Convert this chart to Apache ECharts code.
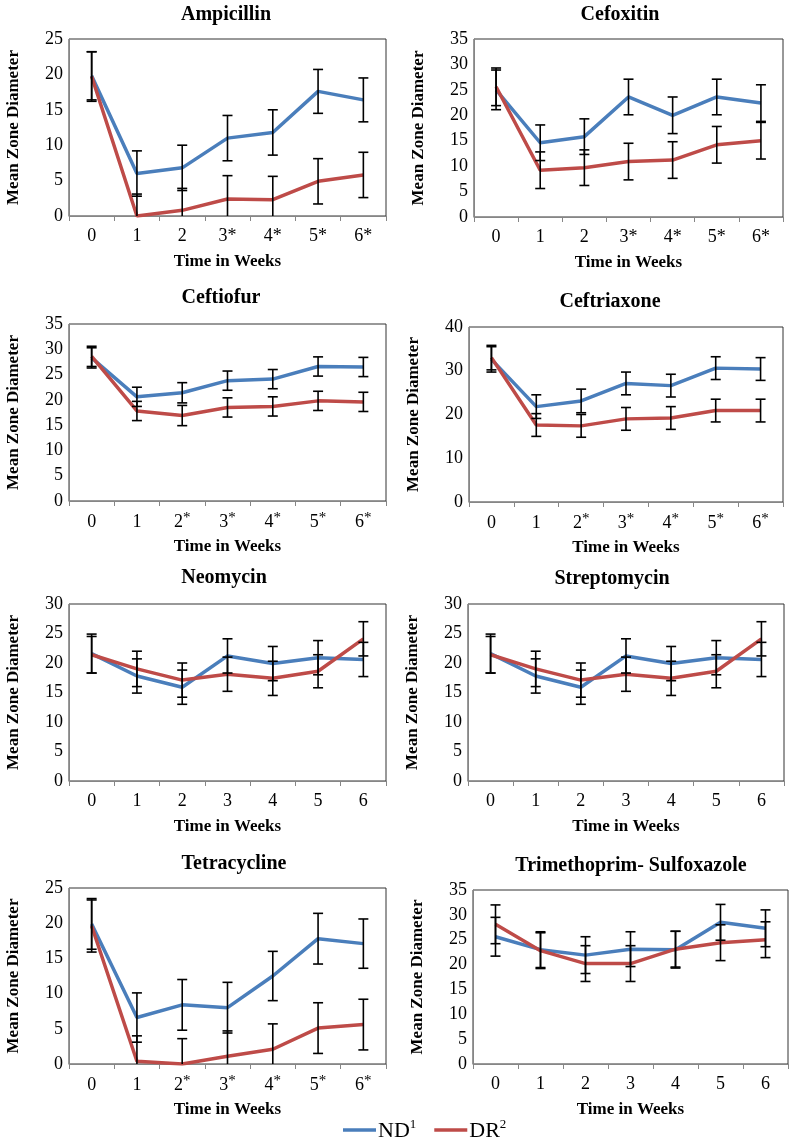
<!DOCTYPE html>
<html>
<head>
<meta charset="utf-8">
<script src="https://cdn.jsdelivr.net/npm/echarts@6/dist/echarts.min.js"></script>
<style>
html,body{margin:0;padding:0;background:#fff;}
#chart{width:794px;height:1143px;}
</style>
</head>
<body>
<div id="chart"></div>
<script>
// ---------- tick labels ----------
const labelsA = ['0', '1', '2', '3*', '4*', '5*', '6*'];
const labelsB = ['0', '1', '2*', '3*', '4*', '5*', '6*'];
const labelsC = ['0', '1', '2', '3', '4', '5', '6'];

// ---------- data (mean, SD) ----------
const ampND = [19.8, 6.0, 6.8, 11.0, 11.8, 17.6, 16.4];
const ampNDsd = [3.4, 3.2, 3.2, 3.2, 3.2, 3.1, 3.1];
const ampDR = [19.7, 0.0, 0.8, 2.4, 2.3, 4.9, 5.8];
const ampDRsd = [3.5, 3.1, 3.1, 3.3, 3.3, 3.2, 3.2];

const cefoxND = [25.0, 14.6, 15.8, 23.6, 20.0, 23.6, 22.4];
const cefoxNDsd = [3.9, 3.5, 3.5, 3.5, 3.6, 3.5, 3.6];
const cefoxDR = [25.6, 9.2, 9.7, 10.9, 11.2, 14.2, 15.0];
const cefoxDRsd = [3.7, 3.6, 3.5, 3.6, 3.6, 3.6, 3.6];

const ceftioND = [28.3, 20.6, 21.4, 23.8, 24.1, 26.6, 26.5];
const ceftioNDsd = [2.0, 1.9, 2.0, 1.9, 1.9, 1.9, 1.9];
const ceftioDR = [28.6, 17.8, 16.9, 18.5, 18.7, 19.8, 19.6];
const ceftioDRsd = [2.0, 1.9, 2.0, 1.9, 1.9, 1.9, 1.9];

const ceftriND = [32.6, 21.8, 23.1, 27.1, 26.6, 30.6, 30.4];
const ceftriNDsd = [2.9, 2.7, 2.7, 2.6, 2.6, 2.6, 2.6];
const ceftriDR = [33.0, 17.6, 17.4, 19.0, 19.2, 20.9, 20.9];
const ceftriDRsd = [2.8, 2.6, 2.6, 2.6, 2.6, 2.6, 2.6];

const neoND = [21.6, 17.8, 15.9, 21.2, 19.9, 20.9, 20.6];
const neoNDsd = [3.3, 2.9, 2.9, 2.9, 2.9, 2.9, 2.9];
const neoDR = [21.4, 19.0, 17.1, 18.1, 17.4, 18.6, 24.1];
const neoDRsd = [3.1, 3.0, 2.9, 2.9, 2.9, 2.8, 2.9];

const strepND = [21.6, 17.8, 15.9, 21.2, 19.9, 20.9, 20.6];
const strepNDsd = [3.3, 2.9, 2.9, 2.9, 2.9, 2.9, 2.9];
const strepDR = [21.4, 19.0, 17.1, 18.1, 17.4, 18.6, 24.1];
const strepDRsd = [3.1, 3.0, 2.9, 2.9, 2.9, 2.8, 2.9];

const tetraND = [19.9, 6.6, 8.4, 8.0, 12.5, 17.8, 17.1];
const tetraNDsd = [3.6, 3.5, 3.6, 3.6, 3.5, 3.6, 3.5];
const tetraDR = [19.6, 0.4, 0.0, 1.1, 2.1, 5.1, 5.6];
const tetraDRsd = [3.7, 3.6, 3.6, 3.6, 3.6, 3.6, 3.6];

const trimND = [25.6, 23.0, 21.9, 23.1, 23.0, 28.5, 27.3];
const trimNDsd = [3.9, 3.6, 3.7, 3.5, 3.7, 3.6, 3.7];
const trimDR = [28.1, 22.8, 20.2, 20.2, 23.1, 24.4, 25.0];
const trimDRsd = [3.9, 3.6, 3.6, 3.6, 3.6, 3.6, 3.6];

// ---------- layout ----------
const FONT = '"Liberation Serif", "Times New Roman", serif';
const ND_COLOR = '#4a7ebb';
const DR_COLOR = '#be4b48';

const panels = [
  {title: 'Ampicillin', labels: labelsA, star: 'plain', max: 25, interval: 5, nd: ampND, ndSd: ampNDsd, dr: ampDR, drSd: ampDRsd,
   grid: {left: 69, top: 39, width: 317, height: 177}, tx: 226, ty: 15},
  {title: 'Cefoxitin', labels: labelsA, star: 'plain', max: 35, interval: 5, nd: cefoxND, ndSd: cefoxNDsd, dr: cefoxDR, drSd: cefoxDRsd,
   grid: {left: 474, top: 39, width: 309, height: 178}, tx: 620, ty: 15},
  {title: 'Ceftiofur', labels: labelsB, star: 'sup', max: 35, interval: 5, nd: ceftioND, ndSd: ceftioNDsd, dr: ceftioDR, drSd: ceftioDRsd,
   grid: {left: 69, top: 324, width: 317, height: 177}, tx: 221, ty: 298},
  {title: 'Ceftriaxone', labels: labelsB, star: 'sup', max: 40, interval: 10, nd: ceftriND, ndSd: ceftriNDsd, dr: ceftriDR, drSd: ceftriDRsd,
   grid: {left: 469, top: 327, width: 314, height: 175}, tx: 610, ty: 302},
  {title: 'Neomycin', labels: labelsC, star: 'plain', max: 30, interval: 5, nd: neoND, ndSd: neoNDsd, dr: neoDR, drSd: neoDRsd,
   grid: {left: 69, top: 604, width: 317, height: 177}, tx: 224, ty: 578},
  {title: 'Streptomycin', labels: labelsC, star: 'plain', max: 30, interval: 5, nd: strepND, ndSd: strepNDsd, dr: strepDR, drSd: strepDRsd,
   grid: {left: 468, top: 604, width: 316, height: 177}, tx: 612, ty: 579},
  {title: 'Tetracycline', labels: labelsB, star: 'sup', max: 25, interval: 5, nd: tetraND, ndSd: tetraNDsd, dr: tetraDR, drSd: tetraDRsd,
   grid: {left: 69, top: 888, width: 317, height: 176}, tx: 234, ty: 864},
  {title: 'Trimethoprim- Sulfoxazole', labels: labelsC, star: 'plain', max: 35, interval: 5, nd: trimND, ndSd: trimNDsd, dr: trimDR, drSd: trimDRsd,
   grid: {left: 473, top: 890, width: 315, height: 174}, tx: 631, ty: 866}
];

function errorRender(params, api) {
  const x = api.value(0);
  const m = api.value(1);
  const s = api.value(2);
  const hi = api.coord([x, m + s]);
  const lo = api.coord([x, m - s]);
  const w = 5;
  const st = {stroke: '#000', lineWidth: 1.6};
  return {
    type: 'group',
    children: [
      {type: 'line', shape: {x1: hi[0], y1: hi[1], x2: lo[0], y2: lo[1]}, style: st},
      {type: 'line', shape: {x1: hi[0] - w, y1: hi[1], x2: hi[0] + w, y2: hi[1]}, style: st},
      {type: 'line', shape: {x1: lo[0] - w, y1: lo[1], x2: lo[0] + w, y2: lo[1]}, style: st}
    ]
  };
}

const option = {
  animation: false,
  backgroundColor: '#fff',
  title: [],
  grid: [],
  xAxis: [],
  yAxis: [],
  series: [],
  legend: {
    data: ['ND', 'DR'],
    left: 343,
    top: 1118,
    padding: 0,
    icon: 'rect',
    itemWidth: 33,
    itemHeight: 3.5,
    itemGap: 18,
    formatter: function (name) {
      return name === 'ND' ? '{a|ND}{s|1}' : '{a|DR}{s|2}';
    },
    textStyle: {
      color: '#000',
      fontFamily: FONT,
      padding: [0, 0, 0, -3],
      rich: {
        a: {fontSize: 22, fontFamily: FONT, color: '#000', lineHeight: 24, verticalAlign: 'bottom'},
        s: {fontSize: 13, fontFamily: FONT, color: '#000', lineHeight: 12, verticalAlign: 'top'}
      }
    }
  }
};

panels.forEach(function (p, i) {
  option.title.push({
    text: p.title,
    left: p.tx,
    top: p.ty - 12,
    textAlign: 'center',
    padding: 0,
    textStyle: {fontFamily: FONT, fontWeight: 'bold', fontSize: 20, color: '#000', lineHeight: 24}
  });
  option.grid.push(Object.assign({show: true, borderColor: '#333', borderWidth: 1, containLabel: false}, p.grid));
  const richStar = p.star === 'sup'
    ? {n: {fontSize: 18, fontFamily: FONT, color: '#000', lineHeight: 20, verticalAlign: 'bottom'},
       s: {fontSize: 15, fontFamily: FONT, color: '#000', lineHeight: 10, verticalAlign: 'top'}}
    : {n: {fontSize: 18, fontFamily: FONT, color: '#000', lineHeight: 20},
       s: {fontSize: 18, fontFamily: FONT, color: '#000', lineHeight: 20}};
  option.xAxis.push({
    type: 'category',
    gridIndex: i,
    data: p.labels,
    boundaryGap: true,
    axisLine: {lineStyle: {color: '#868686', width: 1}},
    axisTick: {show: true, length: 5, lineStyle: {color: '#868686'}},
    axisLabel: {
      interval: 0,
      margin: 10,
      color: '#000',
      fontFamily: FONT,
      fontSize: 18,
      formatter: function (v) {
        return v.endsWith('*') ? '{n|' + v.slice(0, -1) + '}{s|*}' : '{n|' + v + '}';
      },
      rich: richStar
    },
    splitLine: {show: false},
    name: 'Time in Weeks',
    nameLocation: 'middle',
    nameGap: 37,
    nameTextStyle: {fontFamily: FONT, fontWeight: 'bold', fontSize: 17, color: '#000'}
  });
  option.yAxis.push({
    type: 'value',
    gridIndex: i,
    min: 0,
    max: p.max,
    interval: p.interval,
    axisLine: {show: true, lineStyle: {color: '#868686', width: 1}},
    axisTick: {show: false},
    splitLine: {show: false},
    axisLabel: {margin: 6, color: '#000', fontFamily: FONT, fontSize: 18},
    name: 'Mean Zone Diameter',
    nameLocation: 'middle',
    nameRotate: 90,
    nameGap: 47,
    nameTextStyle: {fontFamily: FONT, fontWeight: 'bold', fontSize: 17, color: '#000'}
  });
  [['ND', p.nd, p.ndSd, ND_COLOR], ['DR', p.dr, p.drSd, DR_COLOR]].forEach(function (s) {
    option.series.push({
      name: s[0],
      type: 'line',
      xAxisIndex: i,
      yAxisIndex: i,
      data: s[1],
      color: s[3],
      symbol: 'none',
      showSymbol: false,
      lineStyle: {color: s[3], width: 3.5},
      z: 2
    });
  });
  [[p.nd, p.ndSd], [p.dr, p.drSd]].forEach(function (s) {
    option.series.push({
      type: 'custom',
      xAxisIndex: i,
      yAxisIndex: i,
      renderItem: errorRender,
      clip: true,
      data: s[0].map(function (m, k) { return [k, m, s[1][k]]; }),
      z: 3,
      silent: true
    });
  });
});

const chart = echarts.init(document.getElementById('chart'), null, {renderer: 'canvas'});
chart.setOption(option);
</script>
</body>
</html>
